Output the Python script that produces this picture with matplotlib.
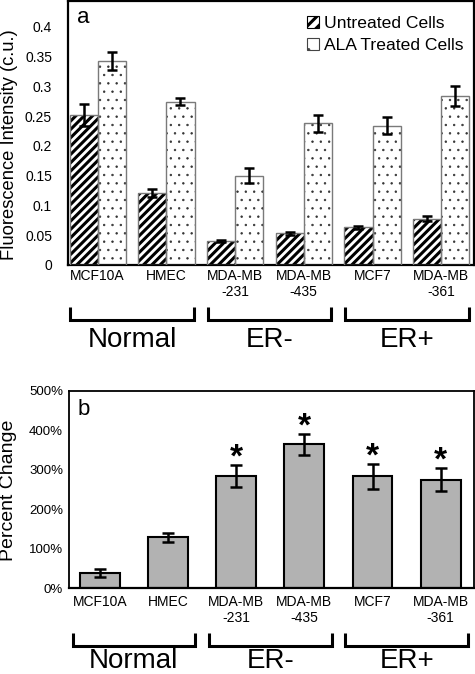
import matplotlib
matplotlib.use("Agg")
import matplotlib.pyplot as plt
import matplotlib.patches as mpatches
import matplotlib.transforms as mtransforms
import numpy as np

plt.rcParams['font.family'] = ['Liberation Sans', 'DejaVu Sans']

# ---------------- data ----------------
cell_lines = ["MCF10A", "HMEC", "MDA-MB\n-231", "MDA-MB\n-435", "MCF7", "MDA-MB\n-361"]
untreated = [0.252, 0.121, 0.040, 0.053, 0.063, 0.078]
untreated_err = [0.018, 0.007, 0.002, 0.003, 0.003, 0.004]
treated = [0.342, 0.274, 0.150, 0.238, 0.234, 0.284]
treated_err = [0.015, 0.006, 0.013, 0.014, 0.015, 0.017]

pct_change = [39, 129, 284, 364, 283, 274]
pct_err = [10, 12, 27, 26, 31, 29]
significant = [False, False, True, True, True, True]

groups = ["Normal", "ER-", "ER+"]
group_members = [(0, 1), (2, 3), (4, 5)]

a_yticks = [0, 0.05, 0.1, 0.15, 0.2, 0.25, 0.3, 0.35, 0.4]
a_yticklabels = ["0", "0.05", "0.1", "0.15", "0.2", "0.25", "0.3", "0.35", "0.4"]
b_yticks = [0, 100, 200, 300, 400, 500]
b_yticklabels = ["0%", "100%", "200%", "300%", "400%", "500%"]

# ---------------- figure ----------------
W, H = 475, 674
DPI = 100
fig = plt.figure(figsize=(W / DPI, H / DPI), dpi=DPI)


def fx(px):
    return px / W


def fy(py):
    return 1 - py / H


def hatch_lw(artist, lw):
    if hasattr(artist, 'set_hatch_linewidth'):
        artist.set_hatch_linewidth(lw)
    orig = artist.draw

    def draw(renderer, _orig=orig, _lw=lw):
        with plt.rc_context({'hatch.linewidth': _lw}):
            _orig(renderer)
    artist.draw = draw


STRIPE_LW = 2.2
DOT_LW = 0.5

x = np.arange(len(cell_lines))

# ---------- panel a ----------
axa = fig.add_axes([fx(68), fy(265), fx(474 - 68), (265 - 1) / H])
bw = 0.41
xu = x - bw / 2
xt = x + bw / 2

plt.rcParams['hatch.linewidth'] = STRIPE_LW
hu = axa.bar(xu, untreated, bw, facecolor='white', edgecolor='black', linewidth=0,
             hatch='////', zorder=2)
for p in hu:
    hatch_lw(p, STRIPE_LW)
plt.rcParams['hatch.linewidth'] = DOT_LW
ht = axa.bar(xt, treated, bw, facecolor='white', edgecolor='#333333', linewidth=0,
             hatch='..', zorder=2)
for p in ht:
    hatch_lw(p, DOT_LW)
axa.bar(xu, untreated, bw, fill=False, edgecolor='#7a7a7a', linewidth=1.0, zorder=3)
axa.bar(xt, treated, bw, fill=False, edgecolor='#7a7a7a', linewidth=1.0, zorder=3)

axa.errorbar(xu, untreated, yerr=untreated_err, fmt='none', ecolor='black',
             elinewidth=1.8, capsize=3.5, capthick=1.8, zorder=4)
axa.errorbar(xt, treated, yerr=treated_err, fmt='none', ecolor='black',
             elinewidth=1.8, capsize=3.5, capthick=1.8, zorder=4)

axa.set_xlim(-0.432, 5.477)
axa.set_ylim(0, 0.443)
axa.set_yticks(a_yticks)
axa.set_yticklabels(a_yticklabels, fontsize=10)
axa.set_xticks(x)
axa.set_xticklabels(cell_lines, fontsize=10, linespacing=1.15)
axa.tick_params(axis='y', length=0, pad=11.5)
axa.tick_params(axis='x', length=0, pad=3.2)
for s in axa.spines.values():
    s.set_linewidth(1.6)

axa.text(0.022, 0.917, "a", transform=axa.transAxes, fontsize=16, va='baseline', ha='left')
fig.text(fx(10), fy(144.5), "Fluorescence Intensity (c.u.)", rotation=90,
         fontsize=13.2, ha='center', va='center')

h_un = mpatches.Patch(facecolor='white', edgecolor='black', linewidth=0.8, hatch='///')
h_tr = mpatches.Patch(facecolor='white', edgecolor='#444444', linewidth=0.8, hatch='.')
leg = axa.legend([h_un, h_tr], ["Untreated Cells", "ALA Treated Cells"],
                 loc='upper right', bbox_to_anchor=(0.975, 0.945), frameon=False,
                 fontsize=12.6, handlelength=0.7, handleheight=0.7, handletextpad=0.3,
                 labelspacing=0.42, borderpad=0, borderaxespad=0)
lh = getattr(leg, 'legend_handles', None) or getattr(leg, 'legendHandles', [])
hatch_lw(lh[0], 2.2)
hatch_lw(lh[1], DOT_LW)

# ---------- panel b ----------
axb = fig.add_axes([fx(69), fy(588.3), fx(474 - 69), (588.3 - 390.5) / H])
axb.bar(x, pct_change, 0.583, facecolor='#b2b2b2', edgecolor='black', linewidth=1.5, zorder=2)
axb.errorbar(x, pct_change, yerr=pct_err, fmt='none', ecolor='black',
             elinewidth=1.8, capsize=4.5, capthick=1.8, zorder=4)
for xi, v, e, sig in zip(x, pct_change, pct_err, significant):
    if sig:
        axb.annotate("*", (xi, v + e), xytext=(0, -1), textcoords='offset points',
                     ha='center', va='baseline', fontsize=24, fontweight='bold')

axb.set_xlim(-0.452, 5.488)
axb.set_ylim(0, 500)
axb.set_yticks(b_yticks)
axb.set_yticklabels(b_yticklabels, fontsize=9.5)
axb.set_xticks(x)
axb.set_xticklabels(cell_lines, fontsize=10, linespacing=1.15)
axb.tick_params(axis='y', length=0, pad=4.3)
axb.tick_params(axis='x', length=0, pad=5)
for s in axb.spines.values():
    s.set_linewidth(1.3)
axb.spines['bottom'].set_linewidth(1.6)

axb.text(0.02, 0.874, "b", transform=axb.transAxes, fontsize=16, va='baseline', ha='left')
fig.text(fx(8.5), fy(490), "Percent Change", rotation=90,
         fontsize=14, ha='center', va='center')


# ---------- group brackets ----------
def brackets(ax, ytop_px, ybot_px, ylab_px):
    tr = mtransforms.blended_transform_factory(ax.transData, fig.transFigure)
    for name, (i0, i1) in zip(groups, group_members):
        mid = (x[i0] + x[i1]) / 2
        xl, xr = mid - 0.9, mid + 0.9
        ax.plot([xl, xl, xr, xr], [fy(ytop_px), fy(ybot_px), fy(ybot_px), fy(ytop_px)],
                color='black', linewidth=2.2, transform=tr, clip_on=False,
                solid_joinstyle='miter', solid_capstyle='butt')
        ax.text(mid, fy(ylab_px), name, transform=tr, ha='center', va='baseline', fontsize=20)


brackets(axa, 307, 320, 347)
brackets(axb, 633, 646, 668)

fig.savefig("out.png", dpi=DPI)
